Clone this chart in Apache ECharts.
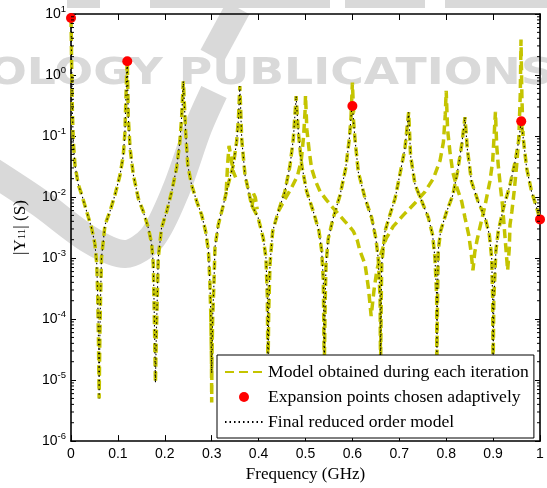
<!DOCTYPE html>
<html>
<head>
<meta charset="utf-8">
<script src="https://cdn.jsdelivr.net/npm/echarts@6/dist/echarts.min.js"></script>
<style>
  html, body { margin: 0; padding: 0; background: #fff; }
  #chart { width: 547px; height: 488px; }
</style>
</head>
<body>
<div id="chart"></div>
<script>
// |Y11| of the final reduced order model, frequency in GHz
const finalFreq = [
  0, 0.0015, 0.0028, 0.005, 0.0085, 0.0156, 0.0228, 0.0334, 0.044, 0.051, 0.055, 0.057, 0.0585, 0.06,
  0.0615, 0.063, 0.065, 0.0725, 0.083, 0.094, 0.1045, 0.1115, 0.115, 0.117, 0.1187, 0.12,
  0.1213, 0.122, 0.126, 0.133, 0.1435, 0.154, 0.165, 0.172, 0.1755, 0.1776, 0.18,
  0.182, 0.184, 0.186, 0.193, 0.204, 0.2147, 0.225, 0.232, 0.236, 0.2395, 0.24,
  0.2445, 0.249, 0.257, 0.268, 0.2786, 0.287, 0.293, 0.296, 0.298, 0.30,
  0.302, 0.305, 0.307, 0.314, 0.3248, 0.335, 0.346, 0.353, 0.357, 0.36,
  0.364, 0.371, 0.385, 0.399, 0.41, 0.4157, 0.4186, 0.42,
  0.4215, 0.4243, 0.43, 0.442, 0.456, 0.467, 0.474, 0.4797, 0.48,
  0.4847, 0.492, 0.5025, 0.5167, 0.5288, 0.5345, 0.538, 0.54,
  0.542, 0.5437, 0.5486, 0.5593, 0.5736, 0.5857, 0.5934, 0.5984, 0.6,
  0.6055, 0.6126, 0.627, 0.641, 0.65, 0.655, 0.659, 0.66,
  0.6615, 0.6625, 0.6695, 0.68, 0.691, 0.701, 0.712, 0.717, 0.72,
  0.724, 0.7335, 0.748, 0.762, 0.771, 0.776, 0.7797, 0.78,
  0.7815, 0.783, 0.788, 0.801, 0.814, 0.824, 0.833, 0.838, 0.84,
  0.845, 0.854, 0.868, 0.883, 0.892, 0.897, 0.899, 0.9,
  0.9015, 0.906, 0.911, 0.922, 0.936, 0.947, 0.954, 0.96,
  0.9645, 0.9716, 0.982, 0.993, 1.0
];
const finalMag = [
  8.6, 1.4, 0.28, 0.079, 0.033, 0.016, 0.011, 0.0058, 0.0031, 0.0017, 0.00079, 0.00023, 5.0e-5, 5.0e-6,
  5.0e-5, 0.00023, 0.001, 0.0035, 0.0058, 0.011, 0.023, 0.048, 0.115, 0.40, 1.0, 1.68,
  0.5, 0.21, 0.062, 0.023, 0.0095, 0.0058, 0.0031, 0.0017, 0.00079, 0.00012, 9e-6,
  6e-5, 0.00023, 0.001, 0.0031, 0.0058, 0.0123, 0.0295, 0.079, 0.21, 0.79, 0.83,
  0.115, 0.033, 0.016, 0.0085, 0.0051, 0.00275, 0.00132, 0.00043, 0.000126, 1.3e-5,
  0.0001, 0.00043, 0.0015, 0.0035, 0.0074, 0.016, 0.033, 0.079, 0.19, 0.66,
  0.089, 0.023, 0.0074, 0.0046, 0.0021, 0.001, 0.00023, 1.2e-5,
  0.000126, 0.00079, 0.00275, 0.0058, 0.0123, 0.033, 0.089, 0.40, 0.45,
  0.115, 0.033, 0.0123, 0.0058, 0.00275, 0.00132, 0.00043, 1.5e-5,
  0.0002, 0.00079, 0.0021, 0.0046, 0.0107, 0.0295, 0.089, 0.275, 0.31,
  0.089, 0.0257, 0.0095, 0.0046, 0.0021, 0.001, 0.00023, 1.5e-5,
  0.0002, 0.00079, 0.00275, 0.0051, 0.0095, 0.023, 0.062, 0.148, 0.245,
  0.048, 0.016, 0.0085, 0.0046, 0.0024, 0.001, 0.00023, 1.5e-5,
  0.0002, 0.00132, 0.00275, 0.0058, 0.0107, 0.0257, 0.071, 0.148, 0.204,
  0.062, 0.0178, 0.0085, 0.0046, 0.0024, 0.001, 0.00023, 1.5e-5,
  0.0002, 0.00132, 0.00275, 0.0066, 0.0158, 0.038, 0.079, 0.175,
  0.089, 0.0295, 0.0123, 0.0066, 0.0043
];

// Intermediate models: the parts where they leave the final curve
const iterDip030 = [[0.298, 1.26e-4], [0.2995, 2.5e-5], [0.3, 4.3e-6], [0.3005, 2.5e-5], [0.302, 1e-4]];
const iterBump034 = [[0.331, 0.0126], [0.334, 0.035], [0.337, 0.069], [0.341, 0.045], [0.346, 0.026], [0.351, 0.021]];
const iterBump039 = [[0.386, 0.0068], [0.389, 0.0115], [0.393, 0.0098], [0.397, 0.0063]];
const iterPeak060 = [[0.597, 0.2], [0.6, 0.75], [0.603, 0.2]];
const iterModelA = [
  [0.442, 0.0058], [0.455, 0.0089], [0.47, 0.0141], [0.483, 0.0224], [0.491, 0.04], [0.496, 0.1],
  [0.499, 0.25], [0.5, 0.46], [0.503, 0.126], [0.508, 0.056], [0.513, 0.0295], [0.522, 0.0178],
  [0.531, 0.0123], [0.545, 0.0089], [0.559, 0.0066], [0.572, 0.0051], [0.584, 0.004], [0.594, 0.0033],
  [0.602, 0.00275], [0.61, 0.002], [0.616, 0.00132], [0.627, 0.00079], [0.634, 0.00033], [0.64, 0.000112],
  [0.646, 0.000295], [0.652, 0.00062], [0.66, 0.00112], [0.672, 0.0021], [0.687, 0.0033], [0.709, 0.0051],
  [0.733, 0.0079], [0.755, 0.0123], [0.773, 0.0204], [0.787, 0.04], [0.794, 0.079], [0.798, 0.224],
  [0.8, 0.55], [0.803, 0.126], [0.808, 0.055], [0.814, 0.0257], [0.823, 0.0141], [0.833, 0.0085],
  [0.84, 0.0046], [0.848, 0.0024], [0.853, 0.00126], [0.857, 0.00063], [0.861, 0.00126], [0.866, 0.002],
  [0.872, 0.0032], [0.883, 0.0074], [0.893, 0.0178], [0.899, 0.038], [0.9026, 0.115], [0.905, 0.25],
  [0.9076, 0.071], [0.911, 0.033], [0.916, 0.0138], [0.92, 0.0074], [0.925, 0.0024], [0.931, 0.00063],
  [0.9346, 0.00148], [0.936, 0.0035], [0.94, 0.0058], [0.945, 0.0126], [0.95, 0.0316], [0.955, 0.1],
  [0.958, 0.5], [0.9595, 3.8], [0.9615, 0.4], [0.964, 0.1]
];

// Expansion points picked by the adaptive scheme
const expFreq = [0, 0.12, 0.6, 0.96, 1.0];
const expMag = [8.6, 1.68, 0.31, 0.175, 0.0043];

// Minor log ticks within each decade
const minorMultipliers = [2, 3, 4, 5, 6, 7, 8, 9];
const yMin = 1e-6, yMax = 10;

const NAME_ITER = 'Model obtained during each iteration';
const NAME_EXP = 'Expansion points chosen adaptively';
const NAME_FINAL = 'Final reduced order model';

const finalPairs = finalFreq.map((f, i) => [f, finalMag[i]]);
const gap = ['-', '-'];
const iterPairs = [].concat(
  finalPairs, [gap], iterDip030, [gap], iterBump034, [gap], iterBump039,
  [gap], iterPeak060, [gap], iterModelA
);
const expPairs = expFreq.map((f, i) => [f, expMag[i]]);

const minorTicks = [];
for (let e = -6; e < 1; e++) {
  minorMultipliers.forEach(m => minorTicks.push([0, m * Math.pow(10, e)]));
}

const sans = 'Liberation Sans';
const serif = 'Liberation Serif';
const AXIS_W = 1.6;
const WM = '#d9d9d9';

const chart = echarts.init(document.getElementById('chart'), null, { renderer: 'canvas' });

const option = {
  animation: false,
  backgroundColor: '#fff',
  graphic: {
    elements: [
      { type: 'polyline', z: 0, silent: true,
        shape: { points: [[-10, 170], [40, 203], [90, 240], [125, 254], [152, 238], [176, 190], [198, 128], [214, 92]], smooth: 0.3 },
        style: { stroke: WM, lineWidth: 28, fill: null } },
      { type: 'polyline', z: 0, silent: true,
        shape: { points: [[212, 56], [238, 8]] },
        style: { stroke: WM, lineWidth: 26, fill: null } },
      { type: 'rect', z: 0, silent: true, shape: { x: 67, y: 0, width: 33, height: 8 }, style: { fill: WM } },
      { type: 'rect', z: 0, silent: true, shape: { x: 150, y: 0, width: 180, height: 8 }, style: { fill: WM } },
      { type: 'rect', z: 0, silent: true, shape: { x: 345, y: 0, width: 80, height: 8 }, style: { fill: WM } },
      { type: 'rect', z: 0, silent: true, shape: { x: 445, y: 0, width: 102, height: 8 }, style: { fill: WM } },
      { type: 'text', z: 0, silent: true, x: -12, y: 74, scaleX: 1.235,
        style: { text: 'OLOGY PUBLICATIONS', font: 'bold 37px "DejaVu Sans"', fill: WM,
                 textAlign: 'left', textVerticalAlign: 'middle' } }
    ]
  },
  grid: { left: 71, right: 7, top: 14, bottom: 43, containLabel: false },
  legend: {
    data: [
      { name: NAME_ITER, itemStyle: { opacity: 0 } },
      { name: NAME_EXP, icon: 'circle', itemStyle: { color: '#ff0000', opacity: 1 } },
      { name: NAME_FINAL, itemStyle: { opacity: 0 } }
    ],
    orient: 'vertical',
    left: 217, top: 355,
    itemWidth: 38, itemHeight: 10, itemGap: 7,
    padding: [8, 5, 7, 7],
    backgroundColor: '#fff',
    borderColor: '#000', borderWidth: 1, borderRadius: 0,
    selectedMode: false,
    textStyle: { fontFamily: serif, fontSize: 17.6, color: '#000' },
    z: 10
  },
  xAxis: [
    {
      type: 'value', min: 0, max: 1, interval: 0.1, position: 'bottom',
      name: 'Frequency (GHz)', nameLocation: 'middle', nameGap: 22,
      nameTextStyle: { fontFamily: serif, fontSize: 17, color: '#000' },
      axisLine: { show: true, onZero: false, lineStyle: { color: '#000', width: AXIS_W } },
      axisTick: { show: true, inside: true, length: 6, lineStyle: { color: '#000', width: 1 } },
      axisLabel: { color: '#000', fontFamily: sans, fontSize: 14, margin: 6 },
      splitLine: { show: false }
    },
    {
      type: 'value', min: 0, max: 1, interval: 0.1, position: 'top',
      axisLine: { show: true, onZero: false, lineStyle: { color: '#000', width: AXIS_W } },
      axisTick: { show: true, inside: true, length: 6, lineStyle: { color: '#000', width: 1 } },
      axisLabel: { show: false },
      splitLine: { show: false }
    }
  ],
  yAxis: [
    {
      type: 'log', logBase: 10, min: yMin, max: yMax, splitNumber: 7, position: 'left',
      name: '{n||Y}{sub|11}{n|| (S)}', nameLocation: 'middle', nameGap: 38, nameRotate: 90,
      nameTextStyle: {
        color: '#000', fontFamily: serif, fontSize: 17,
        rich: {
          n: { fontFamily: serif, fontSize: 17, color: '#000', padding: [0, 0, 4, 0] },
          sub: { fontFamily: serif, fontSize: 11, color: '#000' }
        }
      },
      axisLine: { show: true, onZero: false, lineStyle: { color: '#000', width: AXIS_W } },
      axisTick: { show: true, inside: true, length: 5, lineStyle: { color: '#000', width: 1 } },
      axisLabel: {
        margin: 5, color: '#000',
        formatter: v => '{b|10}{s|' + Math.round(Math.log10(v)) + '}',
        rich: {
          b: { fontFamily: sans, fontSize: 14, color: '#000' },
          s: { fontFamily: sans, fontSize: 9.5, color: '#000', padding: [0, 0, 9, 0] }
        }
      },
      splitLine: { show: false }
    },
    {
      type: 'log', logBase: 10, min: yMin, max: yMax, splitNumber: 7, position: 'right',
      axisLine: { show: true, onZero: false, lineStyle: { color: '#000', width: AXIS_W } },
      axisTick: { show: true, inside: true, length: 5, lineStyle: { color: '#000', width: 1 } },
      axisLabel: { show: false },
      splitLine: { show: false }
    }
  ],
  series: [
    {
      name: NAME_ITER, type: 'line', xAxisIndex: 0, yAxisIndex: 0,
      data: iterPairs, showSymbol: false, symbol: 'none', connectNulls: false,
      lineStyle: { color: '#c4c400', width: 3.5, type: [9, 5] },
      itemStyle: { color: '#c4c400' },
      z: 2
    },
    {
      name: NAME_FINAL, type: 'line', xAxisIndex: 0, yAxisIndex: 0,
      data: finalPairs, showSymbol: false, symbol: 'none',
      lineStyle: { color: '#000', width: 1.1, type: [1.5, 3] },
      itemStyle: { color: '#000' },
      z: 3
    },
    {
      name: NAME_EXP, type: 'scatter', xAxisIndex: 0, yAxisIndex: 0,
      data: expPairs, symbol: 'circle', symbolSize: 10,
      itemStyle: { color: '#ff0000', opacity: 1 },
      z: 4
    },
    {
      name: 'minor ticks', type: 'custom', xAxisIndex: 0, yAxisIndex: 0,
      data: minorTicks, silent: true, clip: false,
      encode: { x: 0, y: 1 },
      renderItem: (params, api) => {
        const v = api.value(1);
        const l = api.coord([0, v]);
        const r = api.coord([1, v]);
        const st = { stroke: '#000', lineWidth: 1 };
        return {
          type: 'group',
          children: [
            { type: 'line', shape: { x1: l[0], y1: l[1], x2: l[0] + 3, y2: l[1] }, style: st },
            { type: 'line', shape: { x1: r[0], y1: r[1], x2: r[0] - 3, y2: r[1] }, style: st }
          ]
        };
      },
      z: 5
    }
  ]
};

chart.setOption(option);
</script>
</body>
</html>
